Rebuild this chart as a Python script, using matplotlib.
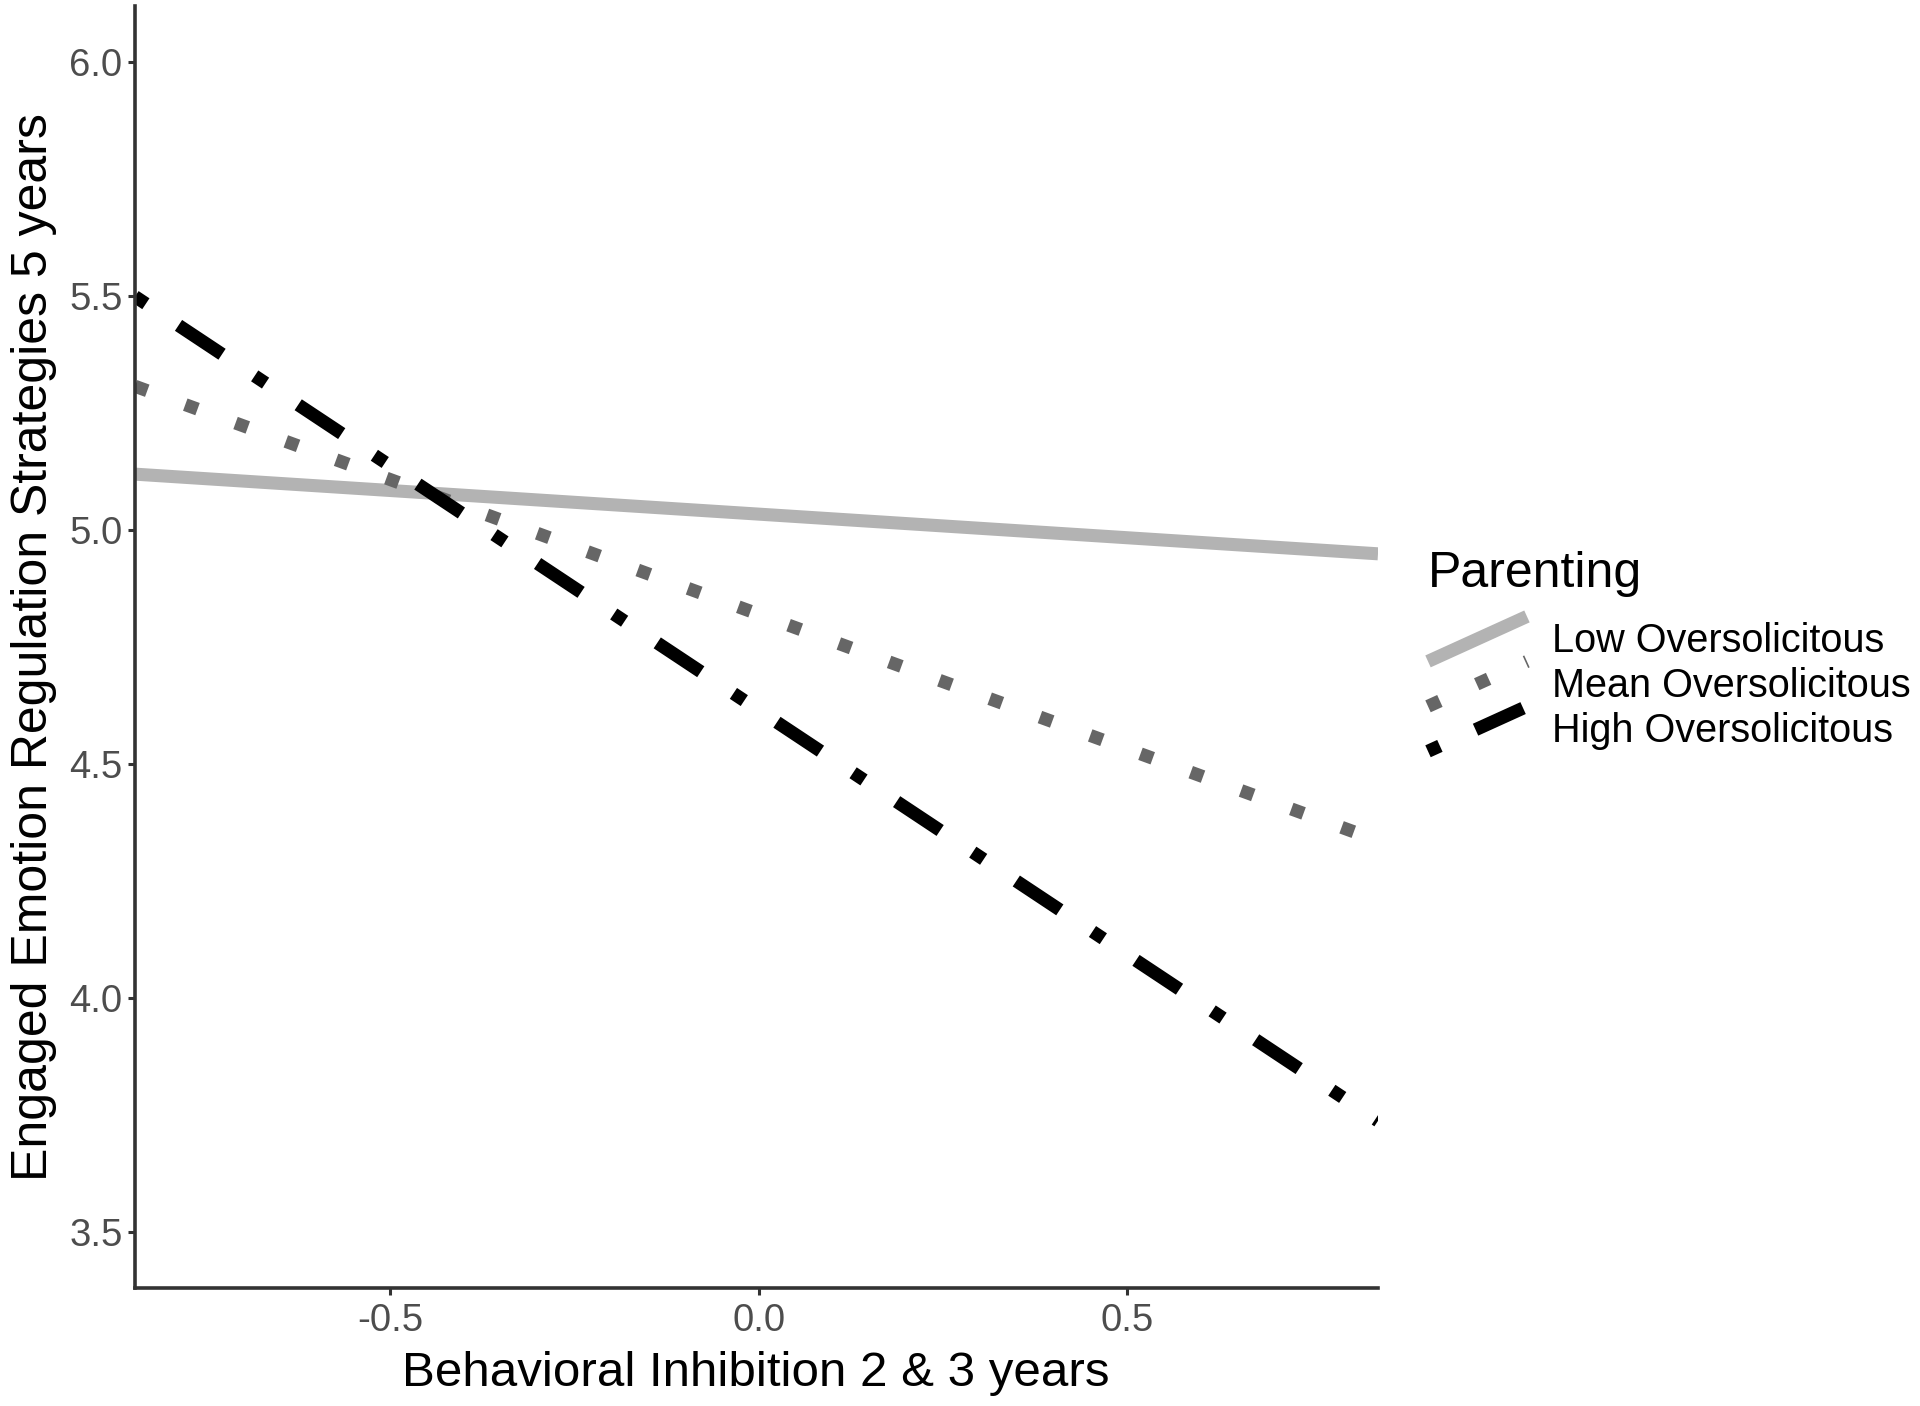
import matplotlib
matplotlib.use('Agg')
import matplotlib.pyplot as plt
from matplotlib.lines import Line2D
from matplotlib.legend_handler import HandlerLine2D

plt.rcParams['font.family'] = ['Liberation Sans', 'DejaVu Sans']

# simple slopes: value = intercept + slope * BI
groups = ['Low Oversolicitous', 'Mean Oversolicitous', 'High Oversolicitous']
intercepts = [5.034, 4.820, 4.615]
slopes = [-0.101, -0.576, -1.045]
colors = ['#B3B3B3', '#666666', '#000000']
styles = ['-', (0, (1, 3.1)), (0, (1, 3, 4, 3))]

x_ticks = [-0.5, 0.0, 0.5]
y_ticks = [3.5, 4.0, 4.5, 5.0, 5.5, 6.0]


class DiagHandler(HandlerLine2D):
    # ggplot abline key: diagonal from bottom-left to top-right
    def create_artists(self, legend, orig_handle, xdescent, ydescent,
                       width, height, fontsize, trans):
        line = Line2D([-xdescent, -xdescent + width],
                      [-ydescent, -ydescent + height])
        self.update_prop(line, orig_handle, legend)
        line.set_transform(trans)
        return [line]


fig = plt.figure(figsize=(19.2, 14.06), dpi=100)
ax = fig.add_axes([135 / 1920, 1 - 1288 / 1406, 1243 / 1920, 1282 / 1406])

ax.set_xlim(-0.846, 0.84)
ax.set_ylim(3.38, 6.12)

handles = []
for g, b, m, c, ls in zip(groups, intercepts, slopes, colors, styles):
    ln = ax.axline((0, b), slope=m, color=c, lw=9.4, linestyle=ls,
                   dash_capstyle='butt', solid_capstyle='butt', label=g)
    handles.append(ln)

ax.set_xticks(x_ticks)
ax.set_xticklabels([f'{v:.1f}' for v in x_ticks])
ax.set_yticks(y_ticks)
ax.set_yticklabels([f'{v:.1f}' for v in y_ticks])
ax.tick_params(axis='both', labelsize=27.5, labelcolor='#4D4D4D', color='#333333',
               width=2.2, length=5)
ax.tick_params(axis='x', pad=6)
ax.tick_params(axis='y', pad=4)

for s in ['top', 'right']:
    ax.spines[s].set_visible(False)
for s in ['left', 'bottom']:
    ax.spines[s].set_color('#333333')
    ax.spines[s].set_linewidth(2.6)

fig.text(756 / 1920, 1 - 1373 / 1406, 'Behavioral Inhibition 2 & 3 years',
         fontsize=35.5, ha='center', va='center')
fig.text(34 / 1920, 1 - 647 / 1406, 'Engaged Emotion Regulation Strategies 5 years',
         fontsize=36, ha='center', va='center', rotation=90)

leg = fig.legend(handles=handles, labels=groups, title='Parenting',
                 handler_map={Line2D: DiagHandler()},
                 loc='upper left', bbox_to_anchor=(1428 / 1920, 1 - 551 / 1406),
                 frameon=False, fontsize=28.5, title_fontsize=36,
                 handlelength=2.5, handleheight=1.37, labelspacing=0.0,
                 handletextpad=0.62, borderpad=0, borderaxespad=0,
                 alignment='left')
leg._legend_box.sep = 14  # gap between title and keys

fig.savefig('out.png', dpi=100, facecolor='white')
